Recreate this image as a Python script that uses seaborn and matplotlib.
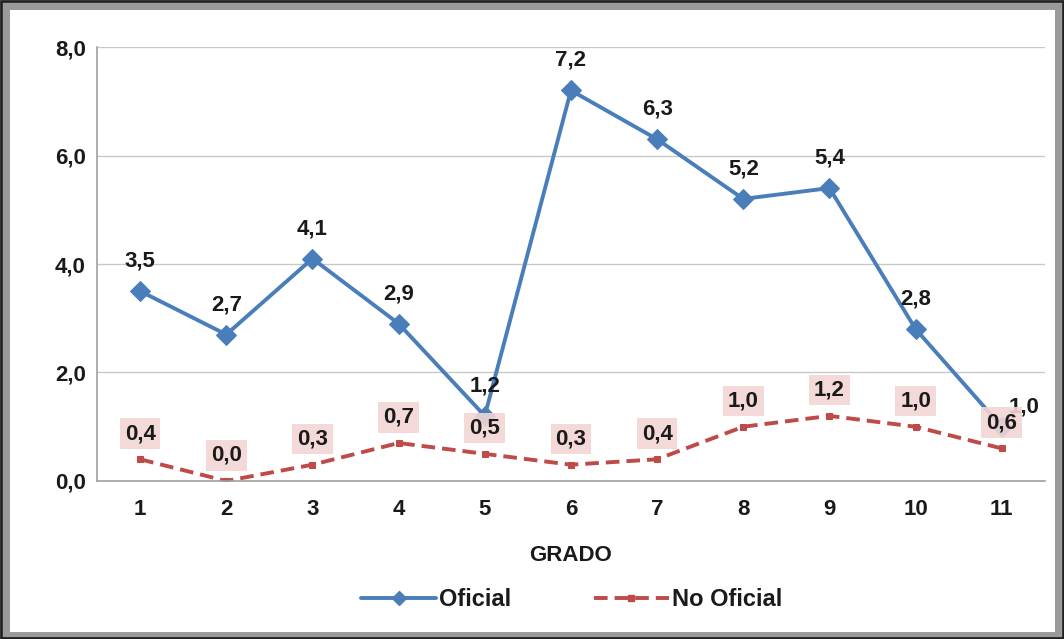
import pandas as pd
import matplotlib.pyplot as plt
import seaborn as sns
from matplotlib.patches import Rectangle
from matplotlib.lines import Line2D
from matplotlib.ticker import FuncFormatter

# Data
grado = [1, 2, 3, 4, 5, 6, 7, 8, 9, 10, 11]
oficial = [3.5, 2.7, 4.1, 2.9, 1.2, 7.2, 6.3, 5.2, 5.4, 2.8, 1.0]
no_oficial = [0.4, 0.0, 0.3, 0.7, 0.5, 0.3, 0.4, 1.0, 1.2, 1.0, 0.6]

df = pd.DataFrame({"grado": grado * 2,
                   "valor": oficial + no_oficial,
                   "serie": ["Oficial"] * 11 + ["No Oficial"] * 11})

sns.set_style("white")
plt.rcParams["font.family"] = ["Liberation Sans", "DejaVu Sans"]
plt.rcParams["font.weight"] = "bold"

blue = "#4a7ebb"
red = "#be4b48"
dash = (0, (3.5, 1.8))

fig = plt.figure(figsize=(10.64, 6.39), dpi=100)
ax = fig.add_axes([0.0912, 0.2473, 0.8908, 0.6791])

sns.lineplot(data=df[df.serie == "Oficial"], x="grado", y="valor", ax=ax,
             color=blue, linewidth=2.8, marker="D", markersize=10,
             markeredgecolor=blue)
sns.lineplot(data=df[df.serie == "No Oficial"], x="grado", y="valor", ax=ax,
             color=red, linewidth=2.8, linestyle=dash, marker="s",
             markersize=5, markeredgecolor=red)

fmt = lambda v: f"{v:.1f}".replace(".", ",")

# Labels
for g, v in zip(grado, oficial):
    off = (16, 7) if g == 11 else (0, 14)
    ax.annotate(fmt(v), (g, v), xytext=off, textcoords="offset points",
                ha="center", va="bottom", fontsize=16, fontweight="bold",
                color="#1a1a1a")
for g, v in zip(grado, no_oficial):
    ax.annotate(fmt(v), (g, v), xytext=(0, 11), textcoords="offset points",
                ha="center", va="bottom", fontsize=16, fontweight="bold",
                color="#1a1a1a",
                bbox=dict(boxstyle="square,pad=0.22", fc="#f2d5d4", ec="none",
                          alpha=0.9))

ax.set_xlim(0.5, 11.5)
ax.set_ylim(0, 8)
ax.set_xticks(grado)
ax.set_xticks([x + 0.5 for x in range(0, 11)] + [11.5], minor=True)
ax.set_yticks([0, 2, 4, 6, 8])
ax.yaxis.set_major_formatter(FuncFormatter(lambda v, p: fmt(v)))
ax.tick_params(axis="x", which="major", length=0, pad=13, labelsize=16,
               labelcolor="#1a1a1a")
ax.tick_params(axis="x", which="minor", length=6, color="#a0a0a0", direction="out")
ax.tick_params(axis="y", length=5, color="#a0a0a0", labelsize=16, pad=3,
               labelcolor="#1a1a1a")
ax.grid(axis="y", color="#c8c8c8", linewidth=1)
for s in ["top", "right"]:
    ax.spines[s].set_visible(False)
for s in ["left", "bottom"]:
    ax.spines[s].set_color("#a0a0a0")
    ax.spines[s].set_linewidth(1.2)

ax.set_xlabel("GRADO", fontsize=16, fontweight="bold", labelpad=18,
              color="#1a1a1a")
ax.set_ylabel("")

handles = [Line2D([], [], color=blue, lw=2.8, marker="D", markersize=7),
           Line2D([], [], color=red, lw=2.8, linestyle=dash, marker="s",
                  markersize=5)]
if ax.get_legend():
    ax.get_legend().remove()
fig.legend(handles, ["Oficial", "No Oficial"], loc="center",
           bbox_to_anchor=(0.537, 0.062), ncol=2, frameon=False,
           fontsize=17, handlelength=3.2, columnspacing=3.5, handletextpad=0.1,
           labelcolor="#1a1a1a")

# Frame around figure
fig.patches.append(Rectangle((0.006, 0.006), 0.988, 0.985, transform=fig.transFigure,
                             fill=False, ec="#9a9a9a", lw=5))
fig.patches.append(Rectangle((0.001, 0.001), 0.998, 0.997, transform=fig.transFigure,
                             fill=False, ec="#202020", lw=2))

fig.savefig("out.png", dpi=100)
